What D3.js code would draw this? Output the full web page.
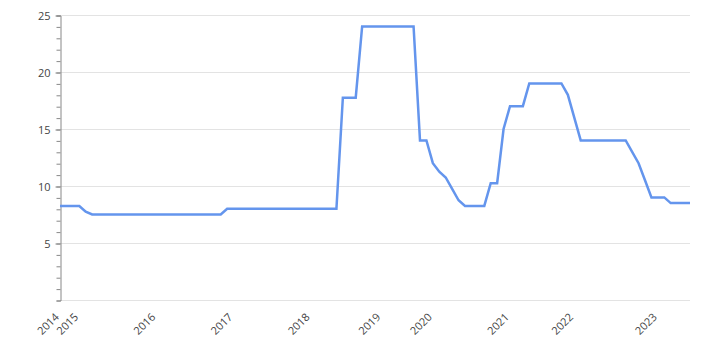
<!DOCTYPE html>
<html>
<head>
<meta charset="utf-8">
<script src="https://cdn.jsdelivr.net/npm/d3@7"></script>
<style>
    body { margin: 0; background: #fff; }
    text { font-family: 'Open Sans', sans-serif; font-size: 11px; fill: #444; }
</style>
</head>
<body>
<svg id="chart" width="720" height="350"></svg>
<script>
// monthly records (some months missing, 2022 has one extra mid-month record)
const dates = [
    '2014-10-01', '2014-11-01', '2014-12-01',
    '2015-01-01', '2015-02-01', '2015-03-01', '2015-04-01', '2015-05-01', '2015-06-01',
    '2015-07-01', '2015-08-01', '2015-09-01', '2015-10-01', '2015-11-01', '2015-12-01',
    '2016-01-01', '2016-02-01', '2016-03-01', '2016-04-01', '2016-05-01', '2016-06-01',
    '2016-07-01', '2016-08-01', '2016-09-01', '2016-10-01', '2016-11-01', '2016-12-01',
    '2017-01-01', '2017-02-01', '2017-03-01', '2017-04-01', '2017-05-01', '2017-06-01',
    '2017-07-01', '2017-08-01', '2017-09-01', '2017-10-01', '2017-11-01', '2017-12-01',
    '2018-01-01', '2018-02-01', '2018-03-01', '2018-04-01', '2018-05-01', '2018-06-01',
    '2018-07-01', '2018-08-01', '2018-09-01', '2018-10-01', '2018-12-01',
    '2019-01-01', '2019-02-01', '2019-03-01', '2019-04-01', '2019-05-01', '2019-06-01',
    '2019-11-01', '2019-12-01',
    '2020-01-01', '2020-02-01', '2020-03-01', '2020-04-01', '2020-05-01', '2020-06-01',
    '2020-07-01', '2020-08-01', '2020-09-01', '2020-10-01', '2020-11-01', '2020-12-01',
    '2021-01-01', '2021-02-01', '2021-03-01', '2021-04-01', '2021-05-01', '2021-06-01',
    '2021-07-01', '2021-08-01', '2021-09-01', '2021-10-01',
    '2022-01-01', '2022-02-01', '2022-03-01', '2022-04-01', '2022-05-01', '2022-06-01',
    '2022-06-15', '2022-07-01', '2022-08-01', '2022-09-01', '2022-10-01', '2022-11-01',
    '2022-12-01',
    '2023-01-01', '2023-02-01', '2023-03-01', '2023-04-01', '2023-05-01', '2023-06-01'
];

const rates = [
    8.25, 8.25, 8.25,
    8.25, 7.75, 7.5, 7.5, 7.5, 7.5, 7.5, 7.5, 7.5, 7.5, 7.5, 7.5,
    7.5, 7.5, 7.5, 7.5, 7.5, 7.5, 7.5, 7.5, 7.5, 7.5, 7.5, 8,
    8, 8, 8, 8, 8, 8, 8, 8, 8, 8, 8, 8,
    8, 8, 8, 8, 8, 17.75, 17.75, 17.75, 24, 24, 24,
    24, 24, 24, 24, 24, 24, 14, 14,
    12, 11.25, 10.75, 9.75, 8.75, 8.25, 8.25, 8.25, 8.25, 10.25, 10.25, 15,
    17, 17, 17, 19, 19, 19, 19, 19, 19, 18,
    16, 14, 14, 14, 14, 14, 14, 14, 14, 13, 12, 10.5, 9,
    9, 9, 8.5, 8.5, 8.5, 8.5
];

const yLabels = [5, 10, 15, 20, 25];
const yMinor = [0, 1, 2, 3, 4, 5, 6, 7, 8, 9, 10, 11, 12, 13, 14, 15, 16, 17, 18, 19, 20, 21, 22, 23, 24, 25];

const margin = { top: 15, right: 30, bottom: 50, left: 60 };
const width = 720, height = 350;

const svg = d3.select('#chart');

const x = d3.scaleLinear()
    .domain([0, dates.length - 1])
    .range([margin.left, width - margin.right]);

const y = d3.scaleLinear()
    .domain([0, 25])
    .range([height - margin.bottom, margin.top]);

// grid
svg.append('g')
    .selectAll('line')
    .data([0].concat(yLabels))
    .join('line')
    .attr('x1', margin.left)
    .attr('x2', width - margin.right)
    .attr('y1', d => y(d) + 0.5)
    .attr('y2', d => y(d) + 0.5)
    .attr('stroke', '#e3e3e3');

// minor ticks
const minor = svg.append('g')
    .attr('transform', `translate(${margin.left + 0.5},0.5)`)
    .call(d3.axisLeft(y).tickValues(yMinor).tickSize(4).tickFormat(''));
minor.select('.domain').attr('stroke', '#888');
minor.selectAll('.tick line').attr('stroke', '#888');

// major ticks + labels
const major = svg.append('g')
    .attr('transform', `translate(${margin.left + 0.5},0.5)`)
    .call(d3.axisLeft(y).tickValues(yLabels).tickSize(5).tickPadding(5));
major.select('.domain').remove();
major.selectAll('.tick line').attr('stroke', '#888');
major.selectAll('.tick text').attr('fill', '#444').style('font-size', '11px').attr('font-family', null);

// year ticks at first record of each year
const yearStarts = dates
    .map((d, i) => ({ year: d.slice(0, 4), i }))
    .filter((d, i, arr) => i === 0 || arr[i - 1].year !== d.year);

svg.append('g')
    .selectAll('text')
    .data(yearStarts)
    .join('text')
    .attr('transform', d => `translate(${x(d.i) - 3},${height - margin.bottom + 15}) rotate(-45)`)
    .attr('text-anchor', 'end')
    .attr('dy', '0.35em')
    .text(d => d.year);

// line
const line = d3.line()
    .x((d, i) => x(i))
    .y(d => y(d));

svg.append('path')
    .datum(rates)
    .attr('fill', 'none')
    .attr('stroke', '#6495ed')
    .attr('stroke-width', 2.5)
    .attr('d', line);
</script>
</body>
</html>
